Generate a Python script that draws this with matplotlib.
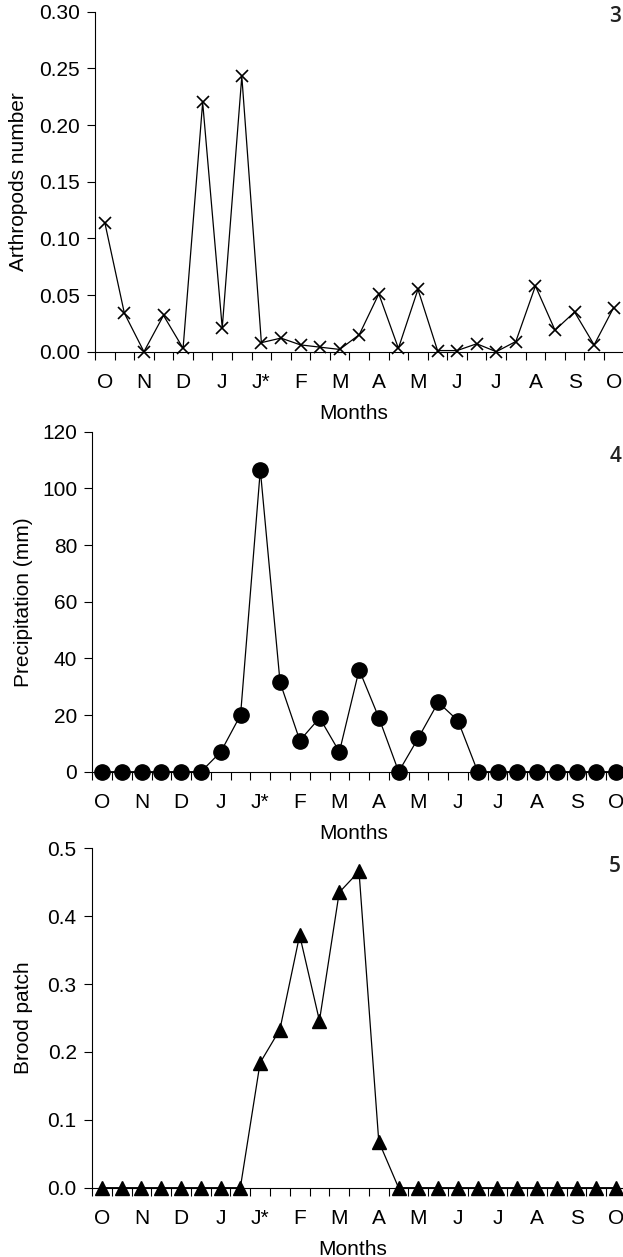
import numpy as np
import matplotlib
matplotlib.use('Agg')
import matplotlib.pyplot as plt
from matplotlib.ticker import FormatStrFormatter

plt.rcParams['font.family'] = ['Liberation Sans', 'DejaVu Sans']

############
### Data ###
############

# 27 Samples, Labelled Every Second Sample
month_labels = ['O', 'N', 'D', 'J', 'J*', 'F', 'M', 'A', 'M', 'J', 'J', 'A', 'S', 'O']

arthropods = [0.114, 0.034, 0.000, 0.032, 0.003, 0.220, 0.021, 0.243, 0.008,
              0.012, 0.006, 0.004, 0.002, 0.015, 0.051, 0.003, 0.055, 0.001,
              0.001, 0.007, 0.000, 0.009, 0.058, 0.019, 0.035, 0.006, 0.039]

precipitation = [0, 0, 0, 0, 0, 0, 7, 20, 106.5, 31.5, 11, 19, 7, 36, 19, 0,
                 12, 24.5, 18, 0, 0, 0, 0, 0, 0, 0, 0]

brood_patch = [0, 0, 0, 0, 0, 0, 0, 0, 0.184, 0.233, 0.372, 0.246, 0.435,
               0.466, 0.068, 0, 0, 0, 0, 0, 0, 0, 0, 0, 0, 0, 0]

###############
### Drawing ###
###############

W, H = 623, 1257
fig = plt.figure(figsize = (W / 100, H / 100), dpi = 100)

def px_axes(left, right, top, bottom):
    return fig.add_axes([left / W, 1 - bottom / H, (right - left) / W, (bottom - top) / H])

def style_axis(ax, ylim, yticks, fmt, ylabel, ylabel_px):
    n = len(arthropods)
    ax.set_xlim(-0.5, n - 0.5)
    ax.set_ylim(*ylim)
    ax.set_yticks(yticks)
    ax.yaxis.set_major_formatter(FormatStrFormatter(fmt))

    # Tick Marks Between Samples, Labels Under Every Second Sample
    ax.set_xticks(np.arange(-0.5, n, 1.0))
    ax.set_xticklabels([])
    ax.set_xticks(np.arange(0, n, 2), minor = True)
    ax.set_xticklabels(month_labels, minor = True)
    ax.tick_params(axis = 'x', which = 'major', direction = 'out', length = 6, width = 0.8)
    ax.tick_params(axis = 'x', which = 'minor', length = 0, pad = 15, labelsize = 15)
    ax.tick_params(axis = 'y', direction = 'out', length = 6, width = 0.8, pad = 5, labelsize = 15)

    for side in ['top', 'right']:
        ax.spines[side].set_visible(False)
    for side in ['left', 'bottom']:
        ax.spines[side].set_linewidth(0.8)

    ax.set_xlabel('Months', fontsize = 15)
    ax.xaxis.set_label_coords(0.489, -0.155)
    ax.set_ylabel(ylabel, fontsize = 15)

    # Y Label Anchored at a Fixed Pixel Column
    bbox = ax.get_position()
    ax.yaxis.set_label_coords((ylabel_px / W - bbox.x0) / bbox.width, 0.5)

def panel_number(text, y_px):
    fig.text(621 / W, 1 - y_px / H, text, fontsize = 15, fontweight = 'semibold',
             color = '#222222', va = 'center', ha = 'right', family = ['Open Sans', 'DejaVu Sans'])

x = np.arange(len(arthropods))

# Panel 3: Arthropods
ax1 = px_axes(95, 623.5, 11.7, 351.7)
ax1.plot(x, arthropods, color = 'black', lw = 0.9, marker = 'x', ms = 8.5, mew = 1.2,
         clip_on = False, zorder = 3)
style_axis(ax1, (0, 0.30), np.arange(0, 0.301, 0.05), '%.2f', 'Arthropods number', 28)
panel_number('3', 17)

# Panel 4: Precipitation
ax2 = px_axes(92.3, 626, 431.7, 771.7)
ax2.plot(x, precipitation, color = 'black', lw = 0.9, marker = 'o', ms = 11,
         clip_on = False, zorder = 3)
style_axis(ax2, (0, 120), np.arange(0, 121, 20), '%d', 'Precipitation (mm)', 33)
panel_number('4', 456)

# Panel 5: Brood Patch
ax3 = px_axes(92, 626, 848.3, 1187.7)
ax3.plot(x, brood_patch, color = 'black', lw = 0.9, marker = '^', ms = 10.5,
         clip_on = False, zorder = 3)
style_axis(ax3, (0, 0.5), np.arange(0, 0.51, 0.1), '%.1f', 'Brood patch', 33)
panel_number('5', 866)

fig.savefig('out.png', dpi = 100)
